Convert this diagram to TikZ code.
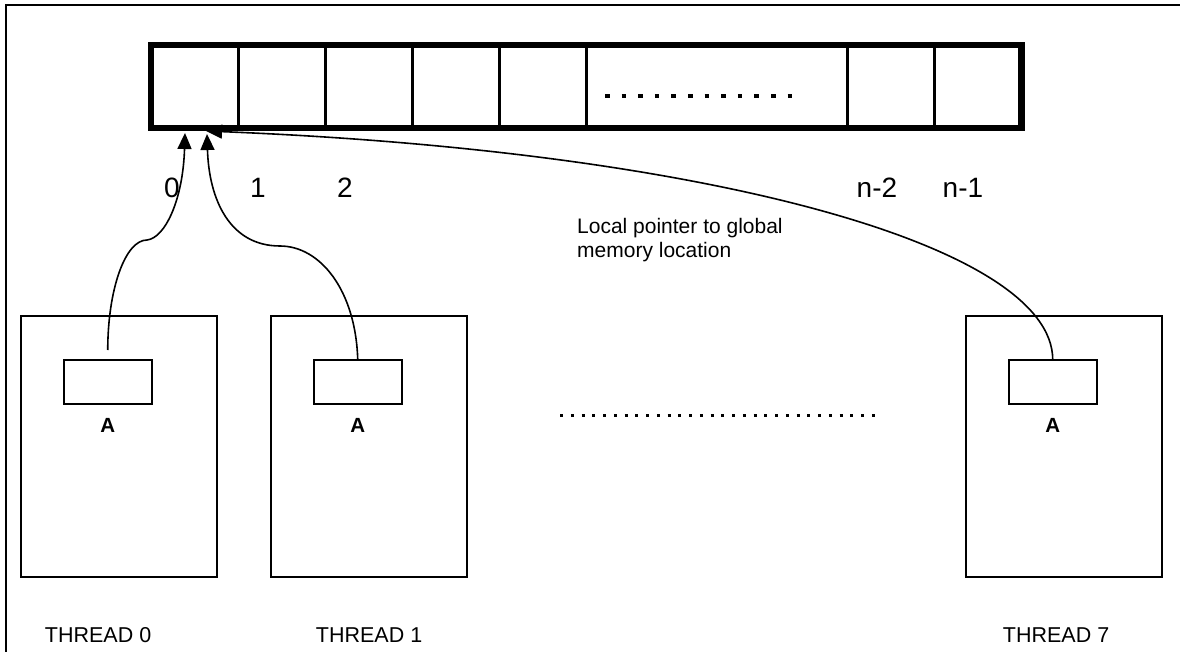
\documentclass[tikz,border=0pt]{standalone}
\usepackage{fontspec}
\setmainfont{Liberation Sans}
\usetikzlibrary{arrows.meta,positioning}

\begin{document}
\begin{tikzpicture}[x=1pt,y=-1pt,
  cell/.style={draw,line width=3pt,minimum width=87pt,minimum height=83pt,
               inner sep=0pt,outer sep=0pt},
  thread/.style={draw,line width=1.6pt,minimum width=196.5pt,minimum height=261pt,
                 inner sep=0pt,outer sep=0pt},
  slot/.style={draw,line width=1.6pt,minimum width=88pt,minimum height=44pt,
               inner sep=0pt,outer sep=0pt},
  idx/.style={font=\fontsize{28}{32}\selectfont,inner sep=0pt},
  var/.style={font=\fontsize{20.5}{24}\selectfont\bfseries,inner sep=0pt},
  tname/.style={font=\fontsize{21.5}{26}\selectfont,inner sep=0pt},
  ptr/.style={line width=1.6pt,-{Triangle[length=16pt,width=14pt]}}]
  \useasboundingbox (0,0) rectangle (1180,652);
  \draw[line width=2pt] (6,660) -- (6,5) -- (1190,5);

  % global array
  \node[cell] (c0) at (194.5,86.5) {};
  \foreach \i [evaluate=\i as \j using int(\i-1)] in {1,...,4}
    \node[cell,right=0pt of c\j] (c\i) {};
  \node[cell,minimum width=261.5pt,right=0pt of c4] (cdots) {};
  \node[cell,right=0pt of cdots] (cn2) {};
  \node[cell,right=0pt of cn2] (cn1) {};
  \draw[line width=6.5pt] (c0.north west) rectangle (cn1.south east);
  \draw[line width=4.5pt,dash pattern=on 4.5pt off 12.1pt]
    ([shift={(19,9.5)}]cdots.west) -- ([shift={(-55,9.5)}]cdots.east);

  % indices
  \node[idx,anchor=base west] (l0) at ([shift={(13,70)}]c0.south west) {0};
  \node[idx,anchor=base west] (l1) at ([shift={(12,70)}]c1.south west) {1};
  \node[idx,anchor=base west] (l2) at ([shift={(12,70)}]c2.south west) {2};
  \node[idx,anchor=base west] (ln2) at ([shift={(9,70)}]cn2.south west) {n-2};
  \node[idx,anchor=base west] (ln1) at ([shift={(8,70)}]cn1.south west) {n-1};

  \node[font=\fontsize{21}{24}\selectfont,inner sep=0pt,anchor=base west,align=left]
    (note) at (577,258) {Local pointer to global\\memory location};

  % threads
  \node[thread] (t0) at (119,446.5) {};
  \node[thread] (t1) at (369,446.5) {};
  \node[thread] (t7) at (1064,446.5) {};
  \foreach \t in {0,1,7} {
    \node[slot,anchor=north west] (a\t) at ([shift={(43,44)}]t\t.north west) {};
    \node[var,anchor=base] (v\t) at ([yshift=-28pt]a\t.south) {A};
  }
  \node[tname,anchor=base west] (n0) at ([shift={(24,65)}]t0.south west) {THREAD 0};
  \node[tname,anchor=base west] (n1) at ([shift={(45,65)}]t1.south west) {THREAD 1};
  \node[tname,anchor=base west] (n7) at ([shift={(37,65)}]t7.south west) {THREAD 7};

  \draw[line width=3pt,dash pattern=on 3pt off 7.75pt] (560,415) -- (875,415);

  % pointers
  \coordinate (p0) at ([shift={(34,5)}]c0.south west);
  \coordinate (p1) at ([shift={(56,6)}]c0.south west);
  \coordinate (p7) at ([shift={(55,3)}]c0.south west);
  \draw[ptr] ([yshift=10pt]a0.north) .. controls +(0,-60) and +(-22,0) .. (147,240)
    .. controls +(18,-2) and +(-2,67) .. (p0);
  \draw[ptr] (a1.north) .. controls +(-2,-70) and +(40,0) .. (280,246)
    .. controls +(-50,0) and +(2,66) .. (p1);
  \draw[ptr] (a7.north) .. controls +(0,-115) and +(500,20) .. (p7);
\end{tikzpicture}
\end{document}
